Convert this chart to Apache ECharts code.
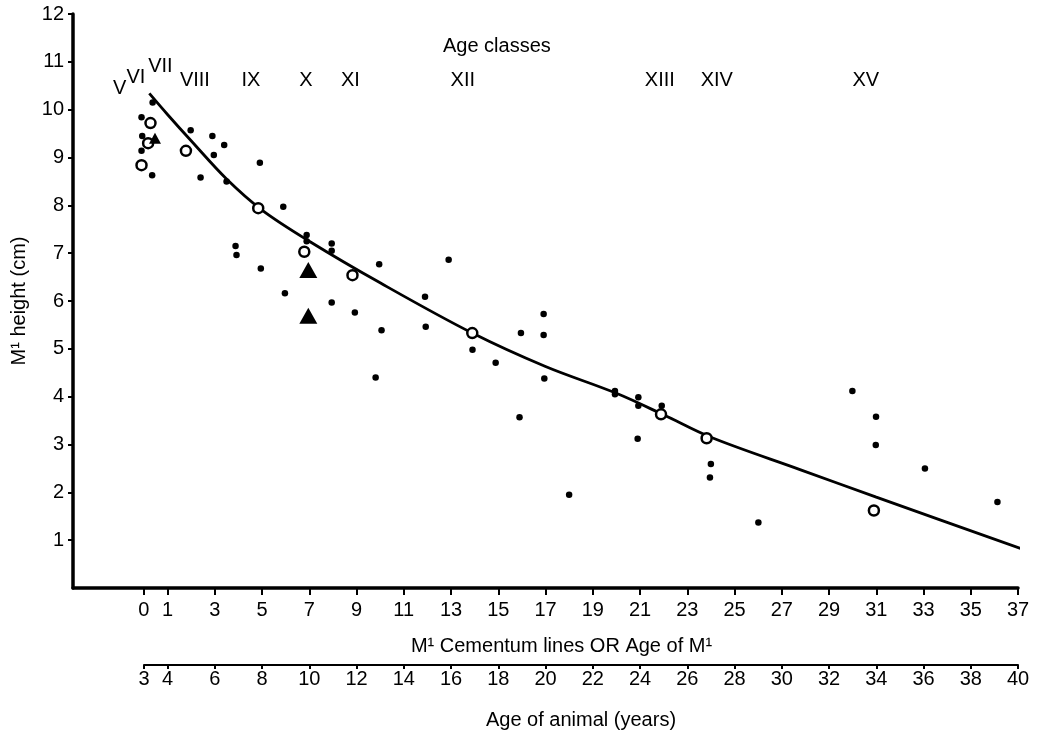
<!DOCTYPE html>
<html><head><meta charset="utf-8">
<script src="https://cdn.jsdelivr.net/npm/echarts@6/dist/echarts.min.js"></script>
<style>html,body{margin:0;padding:0;background:#fff}#c{width:1043px;height:734px}</style>
</head><body><div id="c"></div><script>
// ---- data ----
const cementumTicks = [0,1,3,5,7,9,11,13,15,17,19,21,23,25,27,29,31,33,35,37];
const heightTicks = [1,2,3,4,5,6,7,8,9,10,11,12];
const animalAgeTicks = [3,4,6,8,10,12,14,16,18,20,22,24,26,28,30,32,34,36,38,40];

const dotX = [-0.1,-0.07,-0.1,0.35,0.37,1.98,2.9,3.4,2.96,2.4,3.5,4.91,5.9,3.88,3.92,4.95,6.89,6.89,7.95,7.95,9.96,12.9,5.97,7.95,8.93,10.06,11.9,11.93,9.81,13.91,14.89,15.96,16.92,16.92,16.95,15.9,18.0,19.94,19.94,20.93,20.93,20.9,21.92,24.0,23.96,26.01,29.99,30.99,30.98,33.06,36.13];
const dotY = [9.84,9.45,9.14,8.63,10.15,9.57,9.45,9.26,9.05,8.58,8.5,8.89,7.97,7.15,6.96,6.68,7.38,7.25,7.2,7.05,6.77,6.86,6.16,5.97,5.76,5.39,6.09,5.46,4.4,4.98,4.71,5.33,5.73,5.29,4.38,3.57,1.95,4.12,4.05,3.99,3.81,3.12,3.81,2.59,2.31,1.37,4.12,3.58,2.99,2.5,1.8];

const circleX = [0.28,0.18,-0.1,1.78,4.84,6.79,8.83,13.9,21.89,23.82,30.9];
const circleY = [9.72,9.30,8.84,9.14,7.94,7.03,6.54,5.33,3.63,3.13,1.62];

const triX = [0.47,6.96,6.96];
const triY = [9.40,6.65,5.69];

const curveX = [0.23,1,2,3.5,5,7,10,13.9,17,20.0,22,24,27.8,31,37.9];
const curveY = [10.34,9.9,9.35,8.55,7.9,7.25,6.38,5.33,4.63,4.07,3.62,3.15,2.47,1.9,0.69];

const ageClassNames = ['V','VI','VII','VIII','IX','X','XI','XII','XIII','XIV','XV','Age classes'];
const ageClassX = [-1.02,-0.34,0.70,2.16,4.53,6.86,8.74,13.50,21.84,24.25,30.56,14.94];
const ageClassY = [10.45,10.68,10.90,10.62,10.62,10.62,10.62,10.62,10.62,10.62,10.62,11.32];

// ---- chart ----
const zip = (xs, ys) => xs.map((x, i) => [x, ys[i]]);
const FONT = "'Liberation Sans', Arial, sans-serif";
const txt = {color: '#000', fontFamily: FONT, fontSize: 20};

const chart = echarts.init(document.getElementById('c'), null, {renderer: 'canvas'});
chart.setOption({
  backgroundColor: '#fff',
  animation: false,
  grid: [
    {left: 73, right: 25, top: 14, bottom: 146},
    {left: 144, right: 25, top: 600, bottom: 69}
  ],
  xAxis: [
    {
      gridIndex: 0, type: 'value', min: -3, max: 37,
      name: 'M\u00B9 Cementum lines OR Age of M\u00B9',
      nameLocation: 'middle', nameGap: 48,
      nameTextStyle: Object.assign({}, txt, {padding: [0, 0, 0, 32]}),
      axisLine: {show: true, onZero: false, lineStyle: {color: '#000', width: 3.5}},
      axisTick: {show: true, customValues: cementumTicks, length: 7, lineStyle: {color: '#000', width: 2}},
      axisLabel: Object.assign({}, txt, {customValues: cementumTicks, margin: 12}),
      splitLine: {show: false}
    },
    {
      gridIndex: 1, type: 'value', min: 3, max: 40,
      name: 'Age of animal (years)',
      nameLocation: 'middle', nameGap: 45,
      nameTextStyle: txt,
      axisLine: {show: true, onZero: false, lineStyle: {color: '#000', width: 2}},
      axisTick: {show: true, customValues: animalAgeTicks, length: 4, lineStyle: {color: '#000', width: 2}},
      axisLabel: Object.assign({}, txt, {customValues: animalAgeTicks, margin: 4}),
      splitLine: {show: false}
    }
  ],
  yAxis: [
    {
      gridIndex: 0, type: 'value', min: 0, max: 12,
      name: 'M\u00B9 height (cm)',
      nameLocation: 'middle', nameGap: 44, nameRotate: 90,
      nameTextStyle: txt,
      axisLine: {show: true, onZero: false, lineStyle: {color: '#000', width: 3.5}},
      axisTick: {show: true, customValues: heightTicks, length: 5, lineStyle: {color: '#000', width: 2}},
      axisLabel: Object.assign({}, txt, {customValues: heightTicks, margin: 9}),
      splitLine: {show: false}
    },
    {gridIndex: 1, type: 'value', show: false, min: 0, max: 1}
  ],
  series: [
    {
      type: 'line', xAxisIndex: 0, yAxisIndex: 0,
      data: zip(curveX, curveY), smooth: 0.35, showSymbol: false, clip: false,
      lineStyle: {color: '#000', width: 2.8, opacity: 1}, z: 2
    },
    {
      type: 'scatter', data: zip(dotX, dotY), symbol: 'circle', symbolSize: 6.5,
      itemStyle: {color: '#000', opacity: 1}, z: 3
    },
    {
      type: 'scatter', data: zip(circleX, circleY), symbol: 'circle', symbolSize: 10,
      itemStyle: {color: '#fff', borderColor: '#000', borderWidth: 2.5, opacity: 1}, z: 4
    },
    {
      type: 'scatter', data: zip(triX, triY), symbol: 'triangle',
      symbolSize: (v, p) => p.dataIndex === 0 ? [12, 11] : [18, 16],
      itemStyle: {color: '#000', opacity: 1}, z: 5
    },
    {
      type: 'scatter', symbolSize: 0, silent: true,
      itemStyle: {opacity: 1},
      data: ageClassNames.map((n, i) => ({name: n, value: [ageClassX[i], ageClassY[i]]})),
      label: Object.assign({}, txt, {show: true, position: 'inside', color: '#000', opacity: 1,
        textBorderWidth: 0, formatter: p => p.name}),
      z: 6
    }
  ]
});
</script></body></html>
